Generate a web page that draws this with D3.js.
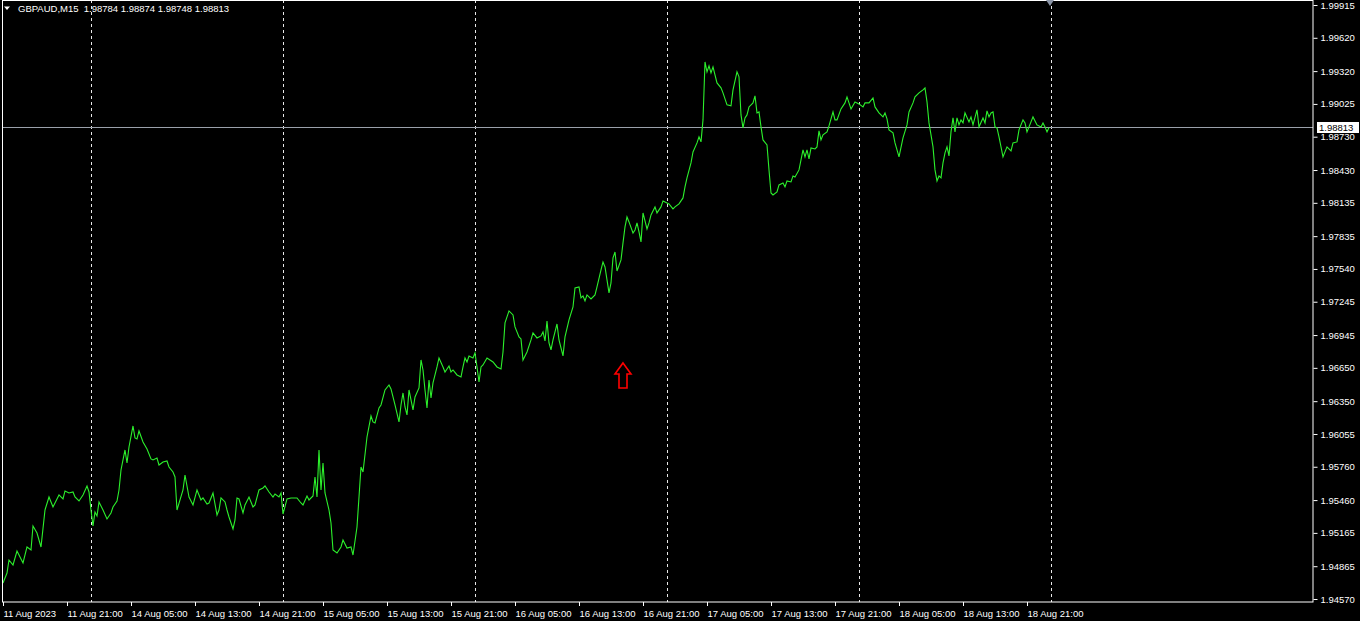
<!DOCTYPE html>
<html>
<head>
<meta charset="utf-8">
<title>GBPAUD,M15</title>
<script src="https://d3js.org/d3.v7.min.js"></script>
<style>
  html, body { margin: 0; padding: 0; background: #000; }
  svg text { font-family: "Liberation Sans", Arial, sans-serif; font-size: 9.5px; fill: #fff; }
</style>
</head>
<body>
<div id="home"></div>
<script>
// header info
const symbol = "GBPAUD";
const timeframe = "M15";
const ohlc = [1.98784, 1.98874, 1.98748, 1.98813];

// close price per M15 bar, [bar index, close] (bar 0 = 11 Aug 13:00)
const closeSeries = [
  [0,1.94714],[2,1.94804],[3,1.94921],[5,1.94876],[7,1.95002],[10,1.94894],[12,1.95038],[14,1.95011],[15,1.95227],[17,1.95164],
  [19,1.95038],[21,1.95371],[23,1.95488],[25,1.95398],[28,1.95506],[30,1.95470],[31,1.95542],[33,1.95524],[35,1.95533],[36,1.95488],
  [38,1.95452],[40,1.95506],[42,1.95587],[43,1.95533],[44,1.95371],[45,1.95227],[46,1.95353],[47,1.95317],[48,1.95443],[50,1.95371],
  [52,1.95290],[54,1.95344],[55,1.95398],[57,1.95452],[58,1.95551],[59,1.95731],[60,1.95821],[61,1.95911],[62,1.95794],[63,1.95938],
  [65,1.96127],[66,1.96019],[67,1.96010],[68,1.96082],[70,1.95983],[72,1.95920],[74,1.95830],[75,1.95821],[77,1.95839],[78,1.95776],
  [80,1.95803],[82,1.95812],[83,1.95758],[85,1.95713],[86,1.95668],[87,1.95371],[90,1.95551],[91,1.95686],[93,1.95488],[95,1.95416],
  [97,1.95551],[99,1.95461],[100,1.95479],[102,1.95425],[103,1.95434],[105,1.95524],[107,1.95326],[108,1.95371],[109,1.95479],[111,1.95443],
  [112,1.95371],[113,1.95308],[115,1.95200],[116,1.95281],[117,1.95479],[118,1.95470],[120,1.95344],[121,1.95416],[123,1.95488],[125,1.95398],
  [126,1.95416],[128,1.95551],[130,1.95569],[131,1.95587],[133,1.95533],[135,1.95488],[136,1.95515],[138,1.95488],[139,1.95524],[140,1.95335],
  [142,1.95470],[144,1.95479],[147,1.95479],[149,1.95434],[150,1.95416],[152,1.95497],[153,1.95461],[155,1.95497],[156,1.95668],[157,1.95488],
  [158,1.95911],[159,1.95551],[160,1.95794],[161,1.95524],[163,1.95371],[164,1.95254],[165,1.95011],[167,1.94984],[169,1.95038],[170,1.95101],
  [172,1.95029],[174,1.95038],[175,1.94966],[177,1.95218],[178,1.95488],[179,1.95758],[180,1.95713],[182,1.96028],[184,1.96217],[185,1.96163],
  [186,1.96154],[188,1.96289],[189,1.96316],[191,1.96451],[193,1.96496],[194,1.96460],[196,1.96316],[198,1.96163],[199,1.96316],[200,1.96424],
  [201,1.96298],[202,1.96226],[203,1.96451],[205,1.96271],[206,1.96388],[208,1.96469],[209,1.96721],[210,1.96631],[211,1.96451],[212,1.96289],
  [213,1.96541],[214,1.96379],[215,1.96514],[217,1.96658],[218,1.96739],[220,1.96658],[221,1.96613],[223,1.96667],[224,1.96613],[225,1.96631],
  [227,1.96586],[229,1.96568],[230,1.96658],[231,1.96739],[232,1.96703],[233,1.96757],[235,1.96739],[236,1.96784],[237,1.96658],[238,1.96523],
  [239,1.96658],[240,1.96676],[242,1.96739],[245,1.96703],[247,1.96658],[249,1.96640],[250,1.96793],[251,1.97054],[253,1.97162],[255,1.97126],
  [256,1.97018],[258,1.96928],[259,1.96910],[260,1.96721],[262,1.96793],[264,1.96901],[265,1.96964],[267,1.96919],[269,1.96937],[270,1.96973],
  [271,1.96892],[272,1.97072],[273,1.96874],[274,1.96811],[275,1.96901],[277,1.97045],[278,1.96901],[280,1.96757],[281,1.96928],[283,1.97081],
  [285,1.97198],[286,1.97369],[288,1.97378],[289,1.97279],[290,1.97297],[291,1.97252],[292,1.97306],[294,1.97270],[296,1.97306],[297,1.97378],
  [299,1.97531],[300,1.97603],[301,1.97558],[302,1.97441],[303,1.97324],[304,1.97414],[305,1.97639],[306,1.97693],[307,1.97522],[309,1.97621],
  [310,1.97774],[311,1.97918],[312,1.98008],[313,1.97963],[315,1.97864],[316,1.97891],[317,1.97954],[318,1.97873],[319,1.97783],[320,1.98044],
  [322,1.97900],[323,1.97954],[324,1.98026],[326,1.98098],[327,1.98044],[329,1.98098],[330,1.98152],[332,1.98134],[333,1.98125],[335,1.98080],
  [336,1.98098],[338,1.98125],[340,1.98179],[341,1.98278],[342,1.98359],[344,1.98494],[345,1.98593],[347,1.98674],[348,1.98728],[349,1.98683],
  [350,1.98881],[351,1.99403],[352,1.99313],[353,1.99367],[354,1.99304],[355,1.99358],[357,1.99214],[359,1.99169],[360,1.99124],[362,1.99016],
  [364,1.99007],[365,1.99151],[367,1.99313],[368,1.99268],[369,1.98926],[370,1.98809],[371,1.98899],[372,1.98926],[373,1.98998],[375,1.99034],
  [376,1.99097],[377,1.98944],[378,1.98953],[379,1.98818],[380,1.98701],[382,1.98656],[383,1.98431],[384,1.98224],[385,1.98206],[387,1.98233],
  [388,1.98296],[390,1.98314],[391,1.98278],[392,1.98332],[394,1.98323],[395,1.98377],[396,1.98368],[398,1.98431],[400,1.98611],[401,1.98548],
  [402,1.98611],[403,1.98530],[404,1.98629],[406,1.98620],[407,1.98638],[408,1.98782],[409,1.98701],[410,1.98746],[412,1.98773],[413,1.98827],
  [415,1.98953],[416,1.98881],[417,1.98881],[419,1.98980],[421,1.99034],[422,1.99088],[424,1.98980],[426,1.99043],[428,1.99025],[430,1.98998],
  [431,1.99034],[433,1.99034],[435,1.99079],[436,1.98998],[438,1.98944],[440,1.98908],[441,1.98944],[442,1.98890],[443,1.98791],[445,1.98764],
  [446,1.98674],[447,1.98611],[448,1.98548],[450,1.98719],[452,1.98836],[453,1.98953],[455,1.99034],[456,1.99088],[458,1.99124],[460,1.99151],
  [461,1.99169],[462,1.99043],[463,1.98854],[465,1.98638],[466,1.98431],[467,1.98332],[468,1.98377],[469,1.98359],[470,1.98494],[471,1.98584],
  [472,1.98638],[473,1.98557],[474,1.98773],[475,1.98899],[476,1.98773],[477,1.98899],[478,1.98836],[479,1.98881],[480,1.98854],[481,1.98944],
  [483,1.98863],[484,1.98908],[485,1.98836],[487,1.98971],[488,1.98818],[490,1.98899],[491,1.98854],[492,1.98962],[493,1.98908],[494,1.98944],
  [495,1.98953],[496,1.98818],[497,1.98809],[498,1.98728],[500,1.98548],[501,1.98593],[502,1.98638],[504,1.98602],[505,1.98674],[507,1.98683],
  [508,1.98791],[510,1.98881],[511,1.98854],[512,1.98773],[513,1.98818],[515,1.98908],[517,1.98836],[519,1.98818],[520,1.98854],[521,1.98818],
  [522,1.98773],[523,1.98813]
];

// price scale labels
const priceTicks = [1.99915, 1.99620, 1.99320, 1.99025, 1.98730, 1.98430, 1.98135, 1.97835, 1.97540,
                    1.97245, 1.96945, 1.96650, 1.96350, 1.96055, 1.95760, 1.95460, 1.95165, 1.94865, 1.94570];

// time scale labels, every 32 bars
const timeTickBars = [0, 32, 64, 96, 128, 160, 192, 224, 256, 288, 320, 352, 384, 416, 448, 480, 512];
const timeTickLabels = ["11 Aug 2023", "11 Aug 21:00", "14 Aug 05:00", "14 Aug 13:00", "14 Aug 21:00",
                        "15 Aug 05:00", "15 Aug 13:00", "15 Aug 21:00", "16 Aug 05:00", "16 Aug 13:00",
                        "16 Aug 21:00", "17 Aug 05:00", "17 Aug 13:00", "17 Aug 21:00", "18 Aug 05:00",
                        "18 Aug 13:00", "18 Aug 21:00"];

// period separators (first bar of each day)
const daySeparatorBars = [44, 140, 236, 332, 428, 524];

// arrow object on the chart
const arrowMark = { bar: 310, price: 1.96694 };

const w = 1360;
const h = 621;
const plotRight = 1313;
const plotBottom = 602;

const svg = d3.select("#home")
              .append("svg")
              .attr("width", w)
              .attr("height", h)
              .style("display", "block")
              .style("background", "#000");

// 2 px per bar
const xScale = d3.scaleLinear()
                 .domain([0, 655])
                 .range([3, plotRight]);
const yScale = d3.scaleLinear()
                 .domain([1.94570, 1.99915])
                 .range([599, 5]);

// day separators
svg.selectAll("line.sep")
   .data(daySeparatorBars)
   .enter()
   .append("line")
   .attr("class", "sep")
   .attr("x1", d => Math.round(xScale(d)) + 0.5)
   .attr("x2", d => Math.round(xScale(d)) + 0.5)
   .attr("y1", 0)
   .attr("y2", plotBottom)
   .style("stroke", "#e8e8e8")
   .style("stroke-width", 1)
   .style("stroke-dasharray", "3,3");

// current price line
const last = closeSeries[closeSeries.length - 1][1];
svg.append("line")
   .attr("x1", 2)
   .attr("x2", plotRight)
   .attr("y1", Math.round(yScale(last)) + 0.5)
   .attr("y2", Math.round(yScale(last)) + 0.5)
   .style("stroke", "#9aa0aa")
   .style("stroke-width", 1);

// close line
const line = d3.line()
               .x(d => xScale(d[0]))
               .y(d => yScale(d[1]));
svg.append("path")
   .datum(closeSeries)
   .attr("d", line)
   .style("fill", "none")
   .style("stroke", "#2cf02c")
   .style("stroke-width", 1.1);

// red arrow
const ax = xScale(arrowMark.bar);
const ay = yScale(arrowMark.price);
svg.append("path")
   .attr("d", `M${ax},${ay} L${ax + 8},${ay + 11} L${ax + 4},${ay + 11} L${ax + 4},${ay + 25}
               L${ax - 4},${ay + 25} L${ax - 4},${ay + 11} L${ax - 8},${ay + 11} Z`)
   .style("fill", "none")
   .style("stroke", "#ff0000")
   .style("stroke-width", 1.6);

// frame
svg.append("rect")
   .attr("x", 2.5)
   .attr("y", 0.5)
   .attr("width", plotRight - 2.5)
   .attr("height", plotBottom - 0.5)
   .style("fill", "none")
   .style("stroke", "#fff")
   .style("stroke-width", 1);

// price axis
const yAxis = d3.axisRight(yScale)
                .tickValues(priceTicks)
                .tickFormat(d3.format(".5f"))
                .tickSize(4)
                .tickPadding(3);
const gy = svg.append("g")
              .attr("transform", `translate(${plotRight + 0.5}, 0)`)
              .call(yAxis);
gy.select(".domain").remove();
gy.selectAll(".tick line").style("stroke", "#fff");
gy.selectAll(".tick text").attr("fill", "#fff").style("font-size", "9.5px").style("font-family", "'Liberation Sans', Arial, sans-serif");

// time axis
const xAxis = d3.axisBottom(xScale)
                .tickValues(timeTickBars)
                .tickFormat((d, i) => timeTickLabels[i])
                .tickSize(4)
                .tickPadding(4);
const gx = svg.append("g")
              .attr("transform", `translate(0, ${plotBottom})`)
              .call(xAxis);
gx.select(".domain").remove();
gx.selectAll(".tick line").style("stroke", "#fff");
gx.selectAll(".tick text")
  .attr("text-anchor", "start")
  .attr("x", 0)
  .attr("fill", "#fff")
  .style("font-size", "9.5px")
  .style("font-family", "'Liberation Sans', Arial, sans-serif");

// current price label box
const py = yScale(last);
svg.append("rect")
   .attr("x", plotRight + 4)
   .attr("y", Math.round(py) - 5)
   .attr("width", 42)
   .attr("height", 11)
   .style("fill", "#fff");
svg.append("text")
   .attr("x", plotRight + 6)
   .attr("y", py + 3.5)
   .style("fill", "#000")
   .text(d3.format(".5f")(last));

// chart shift marker
const sx = xScale(523.5);
svg.append("path")
   .attr("d", `M${sx - 4},0 L${sx + 4},0 L${sx},6 Z`)
   .style("fill", "#8a94a6");

// header
svg.append("path")
   .attr("d", "M4,6.5 L10,6.5 L7,10 Z")
   .style("fill", "#fff");
svg.append("text")
   .attr("x", 18)
   .attr("y", 12)
   .attr("xml:space", "preserve")
   .style("white-space", "pre")
   .text(symbol + "," + timeframe + "  " + ohlc.map(d3.format(".5f")).join(" "));
</script>
</body>
</html>
